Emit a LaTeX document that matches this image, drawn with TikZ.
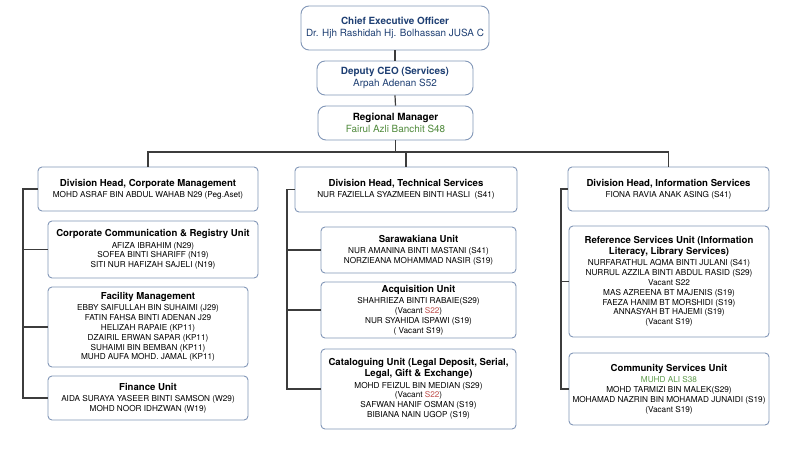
\documentclass[tikz,border=0pt]{standalone}
\usepackage{fontspec}
\setmainfont{TeX Gyre Heros}
\definecolor{boxc}{HTML}{8297B8}
\definecolor{connc}{HTML}{3C3C3C}
\definecolor{dblue}{HTML}{1E3F73}
\definecolor{rgreen}{HTML}{4F8A3B}
\definecolor{lgreen}{HTML}{5E9A4A}
\definecolor{vred}{HTML}{C0504D}
\newcommand\smallf{\fontsize{8.2}{9.8}\selectfont}
\newcommand\titf{\fontsize{9.6}{11}\selectfont\bfseries}
\newcommand\topf{\fontsize{9.9}{11.7}\selectfont}
\begin{document}
\begin{tikzpicture}[x=1pt,y=-1pt,
  box/.style={draw=boxc, line width=0.9pt, rounded corners=4pt, fill=white, align=center, inner sep=0pt, font=\smallf},
  topbox/.style={box, rounded corners=8pt, font=\topf},
  conn/.style={draw=connc, line width=1.2pt}]
\fill[white] (0,0) rectangle (800,450);
\useasboundingbox (0,0) rectangle (800,450);

% top
\node[topbox, minimum width=188pt, minimum height=44pt] (ceo) at (395,28)
  {\textcolor{dblue}{\bfseries Chief Executive Officer}\\\textcolor{dblue}{Dr. Hjh Rashidah Hj. Bolhassan JUSA C}};
\node[topbox, minimum width=156pt, minimum height=34pt] (dep) at (395,78)
  {\textcolor{dblue}{\bfseries Deputy CEO (Services)}\\\textcolor{dblue}{Arpah Adenan S52}};
\node[topbox, minimum width=155pt, minimum height=34pt] (reg) at (395.5,123)
  {{\bfseries Regional Manager}\\\textcolor{rgreen}{Fairul Azli Banchit S48}};

% division heads
\node[box, minimum width=220pt, minimum height=44pt] (ldiv) at (148,189)
  {{\titf Division Head, Corporate Management}\\[1.5pt]MOHD ASRAF BIN ABDUL WAHAB N29 (Peg.Aset)};
\node[box, minimum width=222pt, minimum height=45pt] (mdiv) at (406,189.5)
  {{\titf Division Head, Technical Services}\\[1.5pt]NUR FAZIELLA SYAZMEEN BINTI HASLI\ \ (S41)};
\node[box, minimum width=201pt, minimum height=44pt] (rdiv) at (668.5,189)
  {{\titf Division Head, Information Services}\\[1.5pt]FIONA RAVIA ANAK ASING (S41)};

% left units
\node[box, minimum width=210pt, minimum height=57pt] (corp) at (153,249.5)
  {{\titf Corporate Communication \& Registry Unit}\\[1.5pt]AFIZA IBRAHIM (N29)\\SOFEA BINTI SHARIFF (N19)\\SITI NUR HAFIZAH SAJELI (N19)};
\node[box, minimum width=200pt, minimum height=80pt] (fac) at (148,327)
  {{\titf Facility Management}\\[1.5pt]EBBY SAIFULLAH BIN SUHAIMI (J29)\\FATIN FAHSA BINTI ADENAN J29\\HELIZAH RAPAIE (KP11)\\DZAIRIL ERWAN SAPAR (KP11)\\SUHAIMI BIN BEMBAN (KP11)\\MUHD AUFA MOHD. JAMAL (KP11)};
\node[box, minimum width=200pt, minimum height=44pt] (fin) at (148,398)
  {{\titf Finance Unit}\\[1.5pt]AIDA SURAYA YASEER BINTI SAMSON (W29)\\MOHD NOOR IDHZWAN (W19)};

% middle units
\node[box, minimum width=195pt, minimum height=46pt] (sara) at (418.5,250)
  {{\titf Sarawakiana Unit}\\[1.5pt]NUR AMANINA BINTI MASTANI (S41)\\NORZIEANA MOHAMMAD NASIR (S19)};
\node[box, minimum width=195pt, minimum height=56pt] (acq) at (418.5,310)
  {{\titf Acquisition Unit}\\[1.5pt]SHAHRIEZA BINTI RABAIE(S29)\\(Vacant \textcolor{vred}{S22})\\NUR SYAHIDA ISPAWI (S19)\\( Vacant S19)};
\node[box, minimum width=195pt, minimum height=80pt] (cat) at (418.5,389)
  {{\titf Cataloguing Unit (Legal Deposit, Serial,}\\[1.2pt]{\titf Legal, Gift \& Exchange)}\\[1.5pt]MOHD FEIZUL BIN MEDIAN (S29)\\(Vacant \textcolor{vred}{S22})\\SAFWAN HANIF OSMAN (S19)\\BIBIANA NAIN UGOP (S19)};

% right units
\node[box, minimum width=200pt, minimum height=111pt] (refs) at (669,281.5)
  {{\titf Reference Services Unit (Information}\\[1.2pt]{\titf Literacy, Library Services)}\\[1.5pt]NURFARATHUL AQMA BINTI JULANI (S41)\\NURRUL AZZILA BINTI ABDUL RASID (S29)\\Vacant S22\\MAS AZREENA BT MAJENIS (S19)\\FAEZA HANIM BT MORSHIDI (S19)\\ANNASYAH BT HAJEMI (S19)\\(Vacant S19)};
\node[box, minimum width=200pt, minimum height=72pt] (com) at (669,389)
  {{\titf Community Services Unit}\\[1.5pt]\textcolor{lgreen}{MUHD ALI S38}\\MOHD TARMIZI BIN MALEK(S29)\\MOHAMAD NAZRIN BIN MOHAMAD JUNAIDI (S19)\\(Vacant S19)};

% connectors
\coordinate (bus) at (396,152);
\draw[conn] (ceo.south) -- (dep.north);
\draw[conn] (dep.south) -- (reg.north);
\draw[conn] (reg.south) -- (reg.south |- bus);
\draw[conn] (ldiv.north) -- (ldiv.north |- bus) -- (rdiv.north |- bus) -- (rdiv.north);
\draw[conn] (mdiv.north |- bus) -- (mdiv.north);

\coordinate (lsp) at (23,189);
\draw[conn] (ldiv.west) -- (lsp) |- (fin.west);
\draw[conn] (lsp) |- (corp.west);
\draw[conn] (lsp) |- (fac.west);

\coordinate (msp) at (287,189.5);
\draw[conn] (mdiv.west) -- (msp) |- (cat.west);
\draw[conn] (msp) |- (sara.west);
\draw[conn] (msp) |- (acq.west);

\coordinate (rsp) at (561,189);
\draw[conn] (rdiv.west) -- (rsp) |- (com.west);
\draw[conn] (rsp) |- (refs.west);
\end{tikzpicture}
\end{document}
